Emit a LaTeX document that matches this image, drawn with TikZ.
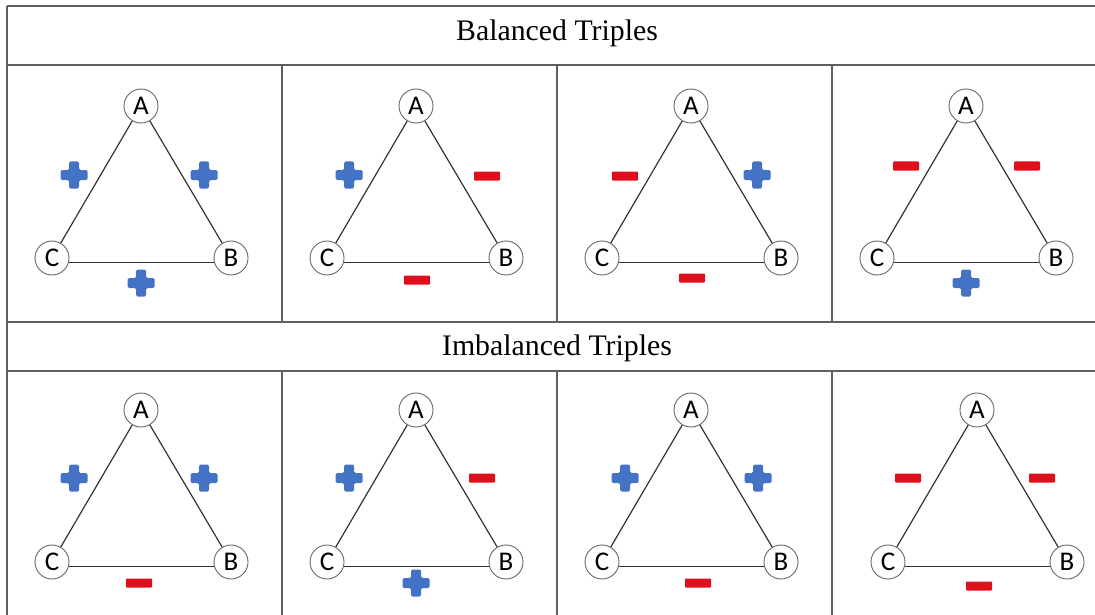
\documentclass[tikz,border=0pt]{standalone}
\usepackage{fontspec}
\setmainfont{Liberation Serif}
\newfontfamily\nodefont{Carlito}
\definecolor{posblue}{RGB}{68,114,196}
\definecolor{negred}{RGB}{222,16,30}
\definecolor{gridgray}{RGB}{95,95,95}
\tikzset{
  vert/.style={circle, draw=gray!80!black, line width=0.9pt, fill=white, minimum size=34pt, inner sep=0pt, font=\nodefont\fontsize{27}{27}\selectfont},
  edge/.style={draw=black!80, line width=1.2pt},
  grid/.style={draw=gridgray, line width=2pt},
  title/.style={font=\fontsize{29.8}{30}\selectfont},
  pics/possign/.style={code={\fill[posblue, rounded corners=1.5pt] (-13.5,-5) -- (-5,-5) -- (-5,-13.5) -- (5,-13.5) -- (5,-5) -- (13.5,-5) -- (13.5,5) -- (5,5) -- (5,13.5) -- (-5,13.5) -- (-5,5) -- (-13.5,5) -- cycle;}},
  pics/negsign/.style={code={\fill[negred, rounded corners=0.8pt] (-13,-4.5) rectangle (13,4.5);}}
}
\newcommand\triad[3]{%
  \node[vert] (#1A) at (#2,#3) {A};
  \node[vert] (#1C) at ([shift={(-89,152)}]#1A.center) {C};
  \node[vert] (#1B) at ([shift={(90,152)}]#1A.center) {B};
  \draw[edge] (#1A) -- (#1C);
  \draw[edge] (#1A) -- (#1B);
  \draw[edge] (#1C.-14) -- (#1B.194);
}
\begin{document}
\begin{tikzpicture}[x=1pt,y=-1pt]
\useasboundingbox (0,0) rectangle (1095,615);
% table
\draw[grid] (7,6) -- (1095,6);
\draw[grid] (7,65) -- (1095,65);
\draw[grid] (7,322) -- (1095,322);
\draw[grid] (7,371) -- (1095,371);
\draw[grid] (7,6) -- (7,615);
\foreach \x in {282,557,832} {
  \draw[grid] (\x,65) -- (\x,322);
  \draw[grid] (\x,371) -- (\x,615);
}
\node[title] (t1) at (557,33) {Balanced Triples};
\node[title] (t2) at (557,348) {Imbalanced Triples};
% row 1
\triad{ra}{141}{106}
\triad{rb}{416}{106}
\triad{rc}{691}{106}
\triad{rd}{966}{106}
\pic at (74,175) {possign}; \pic at (204,175) {possign}; \pic at (141,283) {possign};
\pic at (349,175) {possign}; \pic at (487,176) {negsign}; \pic at (417,280) {negsign};
\pic at (625,176) {negsign}; \pic at (757,175) {possign}; \pic at (692,278) {negsign};
\pic at (906,166) {negsign}; \pic at (1027,166) {negsign}; \pic at (966,283) {possign};
% row 2
\triad{sa}{141}{410}
\triad{sb}{416}{410}
\triad{sc}{691}{410}
\triad{sd}{977}{410}
\pic at (74,478) {possign}; \pic at (204,478) {possign}; \pic at (139,583) {negsign};
\pic at (349,478) {possign}; \pic at (482,478) {negsign}; \pic at (416,583) {possign};
\pic at (625,478) {possign}; \pic at (758,478) {possign}; \pic at (698,583) {negsign};
\pic at (908,478) {negsign}; \pic at (1042,478) {negsign}; \pic at (979,586) {negsign};
\end{tikzpicture}
\end{document}
